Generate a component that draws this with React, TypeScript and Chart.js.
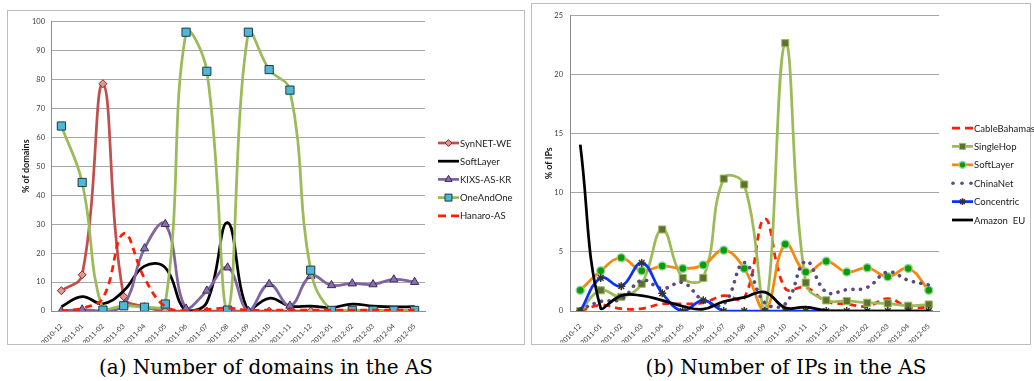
import React, { useEffect, useRef } from "react";
import { Chart, registerables } from "chart.js";

Chart.register(...registerables);

const months = [
  "2010-12", "2011-01", "2011-02", "2011-03", "2011-04", "2011-05", "2011-06",
  "2011-07", "2011-08", "2011-09", "2011-10", "2011-11", "2011-12",
  "2012-01", "2012-02", "2012-03", "2012-04", "2012-05",
];

// (a) % of domains
const synnetWE = [7, 12.5, 78.5, 5, 1.5, 0, 0, 0, 0, 0, 0, 0, 0, 0, 0, 0, 0, 0];
const softLayerDom = [1.5, 5, 2.5, 7, 15.5, 15, 0, 3, 30.5, 0, 4.4, 1.7, 1.7, 1.2, 2.4, 1.7, 1.4, 1.5];
const kixsAsKr = [0, 0.5, 0, 2, 21.6, 30, 0.8, 7, 15, 0, 9.3, 1.8, 12.1, 8.9, 9.5, 9.2, 10.9, 10];
const oneAndOne = [63.9, 44.4, 0.3, 1.8, 1.3, 2.4, 96.3, 82.8, 0.3, 96.3, 83.4, 76.3, 14.1, 0.2, 0.2, 0.2, 0.2, 0.2];
const hanaroAs = [0, 1, 4.5, 26.8, 11.3, 1.5, 0, 0.5, 1, 0.3, 0.3, 0.3, 0.3, 0.3, 0.3, 0.3, 0.3, 0.3];

// (b) % of IPs
const cableBahamas = [0, 0.5, 0.2, 0.2, 0.6, 0.6, 0.7, 1.3, 1.1, 7.8, 1.9, 2.0, 0.8, 0.6, 0.4, 1.05, 0.35, 0.3];
const singleHop = [0, 1.75, 1.2, 2.3, 6.9, 2.8, 2.8, 11.2, 10.7, 0, 22.66, 2.4, 0.9, 0.85, 0.7, 0.64, 0.45, 0.55];
const softLayerIp = [1.75, 3.4, 4.5, 3.4, 3.8, 3.6, 3.9, 5.15, 3.6, 0, 5.65, 3.3, 4.2, 3.3, 3.65, 2.9, 3.6, 1.75];
const chinaNet = [0.1, 0.8, 1.0, 2.6, 1.9, 2.4, 0.9, 0.6, 4.1, 0.7, 0.6, 4.2, 1.6, 1.8, 2.0, 3.3, 2.6, 2.2];
const concentric = [0, 2.8, 2.1, 4.07, 1.5, 0, 0.9, 0, 0, 0, 0, 0, 0, 0, 0, 0, 0, 0];
const amazonEU = [14.07, 0.2, 1.3, 1.3, 0.9, 0.4, 0.15, 0.8, 1.15, 1.6, 0.28, 0.33, 0.03, 0, 0, 0, 0, 0];

const FONT = "Lato, 'Liberation Sans', sans-serif";

function drawShape(ctx: CanvasRenderingContext2D, style: string, x: number, y: number, r: number, fill: string, stroke: string, bw: number) {
  ctx.save();
  ctx.setLineDash([]);
  ctx.beginPath();
  if (style === "rect") {
    const s = r * Math.SQRT1_2;
    ctx.rect(x - s, y - s, 2 * s, 2 * s);
  } else if (style === "rectRot") {
    ctx.moveTo(x, y - r);
    ctx.lineTo(x + r, y);
    ctx.lineTo(x, y + r);
    ctx.lineTo(x - r, y);
    ctx.closePath();
  } else if (style === "triangle") {
    ctx.moveTo(x, y - r);
    ctx.lineTo(x + r * 0.866, y + r * 0.5);
    ctx.lineTo(x - r * 0.866, y + r * 0.5);
    ctx.closePath();
  } else if (style === "circle") {
    ctx.arc(x, y, r, 0, Math.PI * 2);
  } else if (style === "star") {
    ctx.moveTo(x, y - r); ctx.lineTo(x, y + r);
    const d = r * 0.7071;
    ctx.moveTo(x - d, y - d); ctx.lineTo(x + d, y + d);
    ctx.moveTo(x + d, y - d); ctx.lineTo(x - d, y + d);
    ctx.moveTo(x - r, y); ctx.lineTo(x + r, y);
  }
  if (style !== "star") {
    ctx.fillStyle = fill;
    ctx.fill();
  }
  ctx.lineWidth = bw;
  ctx.strokeStyle = stroke;
  ctx.stroke();
  ctx.restore();
}

function makeLegend(x0: number, y0: number, dy: number) {
  return {
    id: "sideLegend",
    afterDraw(chart: any) {
      const ctx: CanvasRenderingContext2D = chart.ctx;
      chart.data.datasets.forEach((ds: any, i: number) => {
        const y = y0 + i * dy;
        ctx.save();
        ctx.strokeStyle = ds.borderColor;
        ctx.lineWidth = ds.borderWidth;
        if (ds.dotted) {
          ctx.fillStyle = ds.borderColor;
          [x0 + 1, x0 + 10, x0 + 19].forEach((cx) => {
            ctx.beginPath();
            ctx.arc(cx, y, 1.8, 0, Math.PI * 2);
            ctx.fill();
          });
        } else {
          ctx.setLineDash(ds.legendDash || []);
          ctx.beginPath();
          ctx.moveTo(x0, y);
          ctx.lineTo(x0 + 21, y);
          ctx.stroke();
        }
        if (ds.pointRadius > 0) {
          drawShape(ctx, ds.pointStyle, x0 + 10.5, y, ds.pointRadius * 0.85, ds.pointBackgroundColor, ds.pointBorderColor, ds.pointBorderWidth);
        }
        ctx.setLineDash([]);
        ctx.fillStyle = "#1a1a1a";
        ctx.font = `9.5px ${FONT}`;
        ctx.textBaseline = "middle";
        ctx.textAlign = "left";
        ctx.fillText(ds.label, x0 + 22, y + 0.5);
        ctx.restore();
      });
    },
  };
}

function lineDs(label: string, data: number[], color: string, extra: any = {}) {
  return {
    label,
    data,
    borderColor: color,
    backgroundColor: color,
    borderWidth: 2.75,
    tension: 0.42,
    fill: false,
    pointRadius: 0,
    pointStyle: "circle",
    pointBackgroundColor: color,
    pointBorderColor: color,
    pointBorderWidth: 1,
    ...extra,
  };
}

function makeOptions(p: {
  yMax: number; yStep: number; yTitle: string; yWidth: number; titlePad: number;
  tickPad: number; padRight: number; padTop: number; xHeight: number;
}) {
  return {
    responsive: false,
    animation: false as const,
    events: [],
    layout: { padding: { left: 0, right: p.padRight, top: p.padTop, bottom: 0 } },
    plugins: { legend: { display: false }, tooltip: { enabled: false } },
    scales: {
      x: {
        type: "category" as const,
        offset: true,
        grid: { display: false },
        border: { display: true, color: "#8c8c8c", width: 1 },
        ticks: {
          autoSkip: false,
          minRotation: 45,
          maxRotation: 45,
          padding: 3,
          color: "#404040",
          font: { family: FONT, size: 7 },
        },
        afterFit: (s: any) => { s.height = p.xHeight; },
      },
      y: {
        min: 0,
        max: p.yMax,
        grid: { color: "#a6a6a6", lineWidth: 1, drawTicks: false },
        border: { display: true, color: "#8c8c8c", width: 1 },
        ticks: {
          stepSize: p.yStep,
          padding: p.tickPad,
          color: "#404040",
          font: { family: FONT, size: 7.5 },
        },
        title: {
          display: true,
          text: p.yTitle,
          color: "#1a1a1a",
          font: { family: FONT, size: 9, weight: "bold" as const },
          padding: { top: p.titlePad, bottom: 0 },
        },
        afterFit: (s: any) => { s.width = p.yWidth; },
      },
    },
  };
}

function withOrder(ds: any[]) {
  return ds.map((d, i) => ({ ...d, order: ds.length - i }));
}

function domainsConfig(): any {
  const datasets = withOrder([
    lineDs("SynNET-WE", synnetWE, "#C0504D", {
      pointRadius: 4, pointStyle: "rectRot", pointBackgroundColor: "#E8948F", pointBorderColor: "#7A2E2C",
    }),
    lineDs("SoftLayer", softLayerDom, "#000000"),
    lineDs("KIXS-AS-KR", kixsAsKr, "#8064A2", {
      pointRadius: 4.8, pointStyle: "triangle", pointBackgroundColor: "#8A70AE", pointBorderColor: "#3B2B55",
    }),
    lineDs("OneAndOne", oneAndOne, "#9BBB59", {
      pointRadius: 5.8, pointStyle: "rect", pointBackgroundColor: "#4FB8D8", pointBorderColor: "#1E3A48",
    }),
    lineDs("Hanaro-AS", hanaroAs, "#FF1E00", { borderDash: [7, 5], legendDash: [8, 5] }),
  ]);
  return {
    type: "line",
    data: { labels: months, datasets },
    options: makeOptions({
      yMax: 100, yStep: 10, yTitle: "% of domains", yWidth: 43, titlePad: 12.6,
      tickPad: 6, padRight: 98, padTop: 9, xHeight: 32,
    }),
    plugins: [makeLegend(430, 132, 18.2)],
  };
}

function ipsConfig(): any {
  const datasets = withOrder([
    lineDs("CableBahamas", cableBahamas, "#FF1E00", { borderDash: [7, 5], legendDash: [8, 5] }),
    lineDs("SingleHop", singleHop, "#9BBB59", {
      pointRadius: 5, pointStyle: "rect", pointBackgroundColor: "#5C7330", pointBorderColor: "#9BBB59",
    }),
    lineDs("SoftLayer", softLayerIp, "#F7880F", {
      pointRadius: 4, pointStyle: "circle", pointBackgroundColor: "#0A9A0A", pointBorderColor: "rgba(150,215,150,0.9)", pointBorderWidth: 1.5,
    }),
    lineDs("ChinaNet", chinaNet, "#5A4A82", {
      borderWidth: 3.6, borderDash: [0.1, 7.5], borderCapStyle: "round", dotted: true,
    }),
    lineDs("Concentric", concentric, "#0A32FF", {
      pointRadius: 4, pointStyle: "star", pointBackgroundColor: "#333", pointBorderColor: "#333", pointBorderWidth: 1.5,
    }),
    lineDs("Amazon  EU", amazonEU, "#000000"),
  ]);
  return {
    type: "line",
    data: { labels: months, datasets },
    options: makeOptions({
      yMax: 25, yStep: 5, yTitle: "% of IPs", yWidth: 38, titlePad: 11.6,
      tickPad: 7, padRight: 95, padTop: 8, xHeight: 32,
    }),
    plugins: [makeLegend(420, 124, 18.4)],
  };
}

function ChartBox(props: { make: () => any; w: number; h: number; left: number; top: number }) {
  const ref = useRef<HTMLCanvasElement>(null);
  useEffect(() => {
    const chart = new Chart(ref.current as HTMLCanvasElement, props.make());
    return () => chart.destroy();
  }, []);
  return (
    <canvas
      ref={ref}
      width={props.w}
      height={props.h}
      style={{ position: "absolute", left: props.left, top: props.top, width: props.w, height: props.h, display: "block" }}
    />
  );
}

const captionStyle: React.CSSProperties = {
  position: "absolute",
  top: 354,
  fontFamily: "'DejaVu Serif', serif",
  fontSize: 20,
  lineHeight: "26px",
  color: "#000",
  whiteSpace: "nowrap",
  transform: "translateX(-50%)",
};

export default function App() {
  return (
    <div style={{ position: "fixed", left: 0, top: 0, width: 1034, height: 381, background: "#fff", overflow: "hidden" }}>
      <div style={{ position: "absolute", left: 7, top: 10, width: 516, height: 333, border: "1px solid #bdbdbd" }} />
      <div style={{ position: "absolute", left: 531, top: 3, width: 498, height: 340, border: "1px solid #bdbdbd" }} />
      <ChartBox make={domainsConfig} w={515} h={332} left={8} top={11} />
      <ChartBox make={ipsConfig} w={502} h={339} left={532} top={4} />
      <div style={{ ...captionStyle, left: 266 }}>(a) Number of domains in the AS</div>
      <div style={{ ...captionStyle, left: 786 }}>(b) Number of IPs in the AS</div>
    </div>
  );
}
